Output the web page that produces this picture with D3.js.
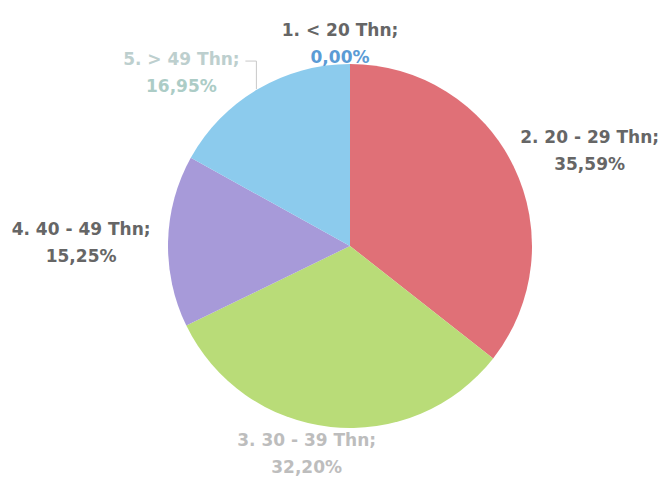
<!DOCTYPE html>
<html>
<head>
<meta charset="utf-8">
<script src="https://cdn.jsdelivr.net/npm/d3@7"></script>
<style>
  body { margin: 0; background: #fff; }
  svg text { font-family: "DejaVu Sans", "Noto Sans", sans-serif; }
</style>
</head>
<body>
<svg id="pie" width="662" height="479"></svg>
<script>
// data kategori umur
const categories = ["1. < 20 Thn", "2. 20 - 29 Thn", "3. 30 - 39 Thn", "4. 40 - 49 Thn", "5. > 49 Thn"];
const values = [0, 21, 19, 9, 10];
const percentLabels = ["0,00%", "35,59%", "32,20%", "15,25%", "16,95%"];
const colors = ["#5fa8e0", "#e07077", "#b9dc78", "#a79ad9", "#8ccbed"];

// posisi label (jarak dari pusat, geser x/y)
const labelPlace = [
    {r: 210, dx: -10, dy: 0},
    {r: 262, dx: 4, dy: 12},
    {r: 201, dx: -22, dy: 0},
    {r: 269, dx: 0, dy: -4},
    {r: 210, dx: -62, dy: 0}
];
const labelColor = ["#666", "#666", "#bdbdbd", "#666", "#bdcfce"];
const pctColor = ["#5b9bd5", "#666", "#bdbdbd", "#666", "#acccc6"];

const cx = 350, cy = 246, radius = 182;
const svg = d3.select("#pie");
const g = svg.append("g").attr("transform", `translate(${cx},${cy})`);

const pie = d3.pie().sort(null).value(d => d.v);
const data = categories.map((c, i) => ({c: c, v: values[i], p: percentLabels[i], i: i}));
const arcs = pie(data);
const arc = d3.arc().innerRadius(0).outerRadius(radius);

g.selectAll("path.slice")
    .data(arcs)
    .enter()
    .append("path")
    .attr("class", "slice")
    .attr("d", arc)
    .attr("fill", d => colors[d.data.i]);

function labelPos(d) {
    const lp = labelPlace[d.data.i];
    const mid = (d.startAngle + d.endAngle) / 2;
    return [Math.sin(mid) * lp.r + lp.dx, -Math.cos(mid) * lp.r + lp.dy];
}

// garis penunjuk label 5
const [lx5, ly5] = labelPos(arcs[4]);
g.append("polyline")
    .attr("points", [[lx5 + 64, ly5 - 4], [lx5 + 75, ly5 - 4], [lx5 + 75, ly5 + 24]].map(p => p.join(",")).join(" "))
    .attr("fill", "none")
    .attr("stroke", "#c8c8c8")
    .attr("stroke-width", 1);

arcs.forEach(d => {
    const i = d.data.i;
    const [x, y] = labelPos(d);
    const t = g.append("text")
        .attr("x", x)
        .attr("y", y)
        .attr("text-anchor", "middle")
        .attr("font-size", "17px")
        .attr("font-weight", "bold");
    t.append("tspan")
        .attr("x", x)
        .attr("fill", labelColor[i])
        .text(d.data.c + ";");
    t.append("tspan")
        .attr("x", x)
        .attr("dy", 27)
        .attr("fill", pctColor[i])
        .text(d.data.p);
});
</script>
</body>
</html>
